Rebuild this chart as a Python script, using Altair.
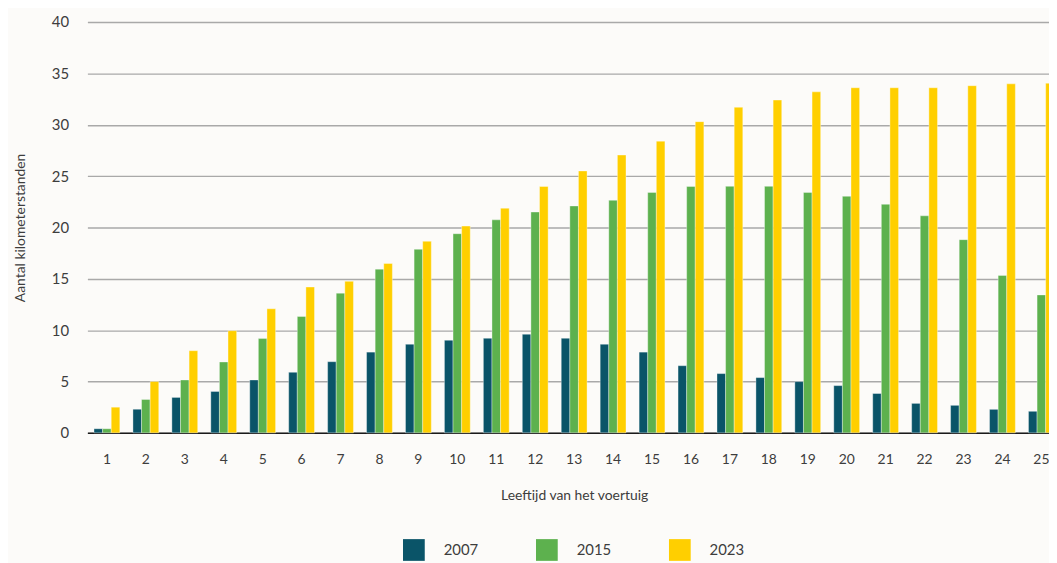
import altair as alt
import pandas as pd

ages = list(range(1, 26))
y2007 = [0.4, 2.3, 3.45, 4.03, 5.15, 5.9, 6.93, 7.86, 8.63, 9.02, 9.21, 9.6, 9.21, 8.63, 7.86, 6.54,
         5.77, 5.38, 4.99, 4.6, 3.83, 2.87, 2.68, 2.29, 2.1]
y2015 = [0.4, 3.25, 5.15, 6.9, 9.18, 11.33, 13.6, 15.94, 17.87, 19.39, 20.74, 21.5, 22.09, 22.64, 23.41,
         23.99, 24.0, 24.0, 23.41, 23.03, 22.25, 21.13, 18.81, 15.33, 13.43]
y2023 = [2.5, 5.0, 8.0, 9.95, 12.08, 14.2, 14.75, 16.49, 18.65, 20.13, 21.87, 23.99, 25.5, 27.05, 28.4,
         30.3, 31.7, 32.4, 33.2, 33.6, 33.6, 33.6, 33.8, 33.98, 34.04]
years = ["2007", "2015", "2023"]
colors = ["#0A5468", "#5DB14E", "#FFCF00"]

rows = []
for i, a in enumerate(ages):
    for yr, vals in zip(years, [y2007, y2015, y2023]):
        rows.append({"leeftijd": a, "jaar": yr, "km": vals[i]})
df = pd.DataFrame(rows)

FONT = "Lato"
TXT = "#3d3d3d"

chart = alt.Chart(df).mark_bar(stroke="#ffffff", strokeWidth=0.6, strokeOpacity=0.6).encode(
    x=alt.X("leeftijd:O",
            scale=alt.Scale(range=[0, 981], paddingInner=0.337, paddingOuter=0.17),
            axis=alt.Axis(title="Leeftijd van het voertuig", labelAngle=0, ticks=False,
                          labelPadding=20, titlePadding=22, domainColor="#1a1a1a",
                          domainWidth=1.5, labelFontSize=14, titleFontSize=14,
                          labelColor=TXT, titleColor=TXT, labelFont=FONT, titleFont=FONT,
                          titleFontWeight="normal")),
    xOffset=alt.XOffset("jaar:N", sort=years),
    y=alt.Y("km:Q",
            scale=alt.Scale(domain=[0, 40]),
            axis=alt.Axis(title="Aantal kilometerstanden", values=list(range(0, 41, 5)),
                          ticks=False, domain=False, labelPadding=19, titlePadding=24,
                          gridColor="#a9a9a9", gridWidth=1.4, labelFontSize=15, titleFontSize=14,
                          labelColor=TXT, titleColor=TXT, labelFont=FONT, titleFont=FONT,
                          titleFontWeight="normal")),
    color=alt.Color("jaar:N", sort=years,
                    scale=alt.Scale(domain=years, range=colors),
                    legend=alt.Legend(title=None, orient="none", legendX=318, legendY=521,
                                      direction="horizontal", symbolType="square",
                                      symbolSize=480, symbolStrokeWidth=0, labelOffset=19,
                                      columnPadding=58, labelFontSize=15, labelFont=FONT,
                                      labelColor=TXT, symbolOpacity=1)),
).properties(
    width=969,
    height=414,
    autosize=alt.AutoSizeParams(type="none"),
    padding={"left": 80, "top": 12, "right": 0, "bottom": 129},
    background="#FCFBF9",
).configure_view(stroke=None)

chart.save("out.html", embed_options={"renderer": "svg", "actions": False})
